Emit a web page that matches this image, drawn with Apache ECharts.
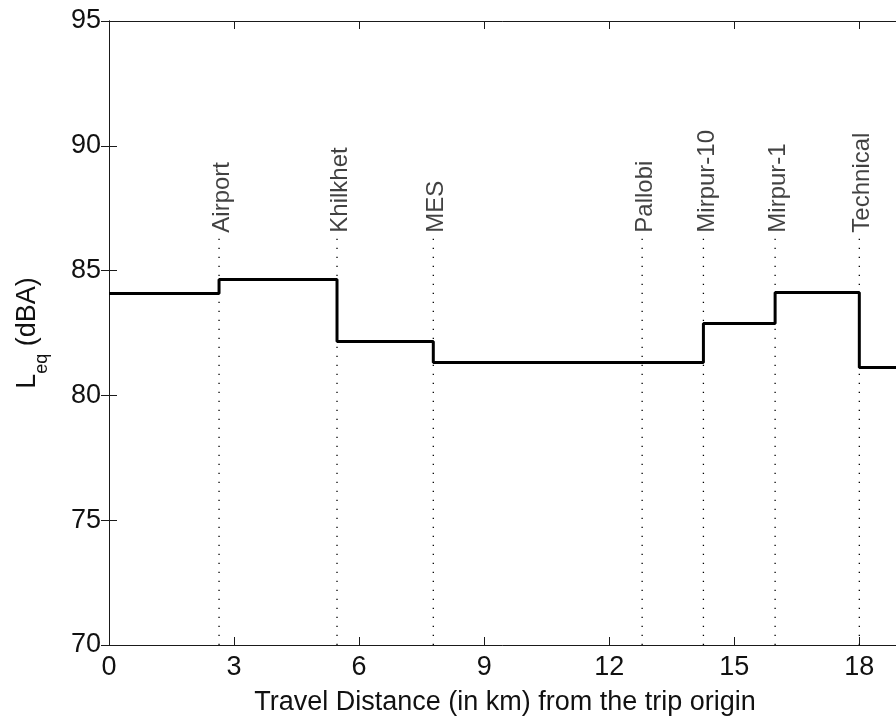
<!DOCTYPE html>
<html>
<head>
<meta charset="utf-8">
<title>Leq along the trip</title>
<script src="https://cdn.jsdelivr.net/npm/echarts@6/dist/echarts.min.js"></script>
<style>
html, body { margin: 0; padding: 0; background: #fff; }
#chart { width: 896px; height: 721px; }
</style>
</head>
<body>
<div id="chart"></div>
<script>
// step profile: distance (km) where each level begins, and its Leq (dBA)
var stepKm = [0, 2.64, 5.47, 7.78, 14.26, 15.98, 18.0, 19];
var stepLeq = [84.08, 84.64, 82.16, 81.32, 82.88, 84.12, 81.12, 81.12];

// stations marked on the route
var stations = ["Airport", "Khilkhet", "MES", "Pallobi", "Mirpur-10", "Mirpur-1", "Technical"];
var stationKm = [2.64, 5.47, 7.78, 12.79, 14.26, 15.98, 18.0];
var markerTop = 86.45;   // top of the dotted markers
var labelBase = 86.62;   // where the rotated names start

var font = "Liberation Sans, Arial, sans-serif";
var axisColor = "#1a1a1a";

var chart = echarts.init(document.getElementById("chart"));

var stepData = stepKm.map(function (x, i) { return [x, stepLeq[i]]; });

// one dotted series per station
var markerSeries = stationKm.map(function (x) {
  return {
    type: "line",
    xAxisIndex: 0,
    yAxisIndex: 0,
    data: [[x, 70], [x, markerTop]],
    symbol: "none",
    silent: true,
    z: 1,
    lineStyle: { color: "#000", width: 1.3, type: [1.3, 7.7] }
  };
});

var labelSeries = {
  type: "scatter",
  xAxisIndex: 0,
  yAxisIndex: 0,
  data: stationKm.map(function (x, i) { return [x, labelBase, stations[i]]; }),
  symbolSize: 1,
  silent: true,
  itemStyle: { color: "rgba(0,0,0,0)" },
  label: {
    show: true,
    formatter: function (p) { return p.data[2]; },
    position: [0, 0],
    rotate: 90,
    align: "left",
    verticalAlign: "middle",
    // offset is in the rotated frame: [along text, across text]
    offset: [-3, 4],
    fontFamily: font,
    fontSize: 24,
    color: "#111"
  }
};

var option = {
  animation: false,
  backgroundColor: "#fff",
  grid: { left: 109, top: 21, width: 792, height: 624, outerBoundsMode: "none" },
  xAxis: [
    {
      type: "value", position: "bottom", min: 0, max: 19, interval: 3,
      axisLine: { lineStyle: { color: axisColor, width: 1 } },
      axisTick: { inside: true, length: 8, lineStyle: { color: axisColor } },
      axisLabel: { fontFamily: font, fontSize: 27, color: "#111", margin: 9, showMinLabel: true, showMaxLabel: false },
      splitLine: { show: false },
      name: "Travel Distance (in km) from the trip origin",
      nameLocation: "middle",
      nameGap: 44,
      nameTextStyle: { fontFamily: font, fontSize: 27, color: "#111" }
    },
    {
      type: "value", position: "top", min: 0, max: 19, interval: 3,
      axisLine: { lineStyle: { color: axisColor, width: 1 } },
      axisTick: { inside: true, length: 8, lineStyle: { color: axisColor } },
      axisLabel: { show: false },
      splitLine: { show: false }
    }
  ],
  yAxis: [
    {
      type: "value", position: "left", min: 70, max: 95, interval: 5,
      axisLine: { show: true, lineStyle: { color: axisColor, width: 1 } },
      axisTick: { show: true, inside: true, length: 8, lineStyle: { color: axisColor } },
      axisLabel: { fontFamily: font, fontSize: 27, color: "#111", margin: 8, showMinLabel: true, showMaxLabel: true },
      splitLine: { show: false },
      name: "{l|L}{s|eq}{l| (dBA)}",
      nameLocation: "middle",
      nameRotate: 90,
      nameGap: 58,
      nameTextStyle: {
        fontFamily: font,
        color: "#111",
        rich: {
          l: { fontFamily: font, fontSize: 27, color: "#111", verticalAlign: "top" },
          s: { fontFamily: font, fontSize: 18, color: "#111", padding: [19, 0, 0, 0] }
        }
      }
    },
    {
      type: "value", position: "right", min: 70, max: 95, interval: 5,
      axisLine: { show: true, lineStyle: { color: axisColor, width: 1 } },
      axisTick: { show: true, inside: true, length: 8, lineStyle: { color: axisColor } },
      axisLabel: { show: false },
      splitLine: { show: false }
    }
  ],
  series: markerSeries.concat([
    labelSeries,
    {
      type: "line",
      xAxisIndex: 0,
      yAxisIndex: 0,
      data: stepData,
      step: "end",
      symbol: "none",
      silent: true,
      z: 3,
      lineStyle: { color: "#000", width: 3 }
    }
  ])
};

chart.setOption(option);
</script>
</body>
</html>
